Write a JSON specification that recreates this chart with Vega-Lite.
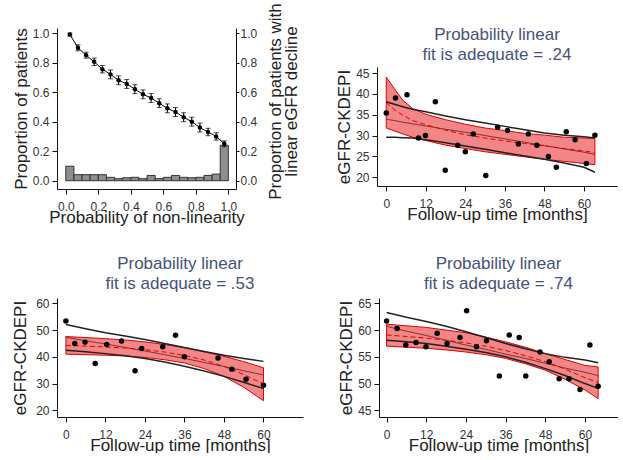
{
  "$schema": "https://vega.github.io/schema/vega-lite/v6.json",
  "padding": {"left": 11, "top": 2, "right": 0, "bottom": 0},
  "background": "white",
  "config": {
    "view": {"stroke": null},
    "font": "Liberation Sans",
    "axis": {"grid": false, "labelFontSize": 12, "titleFontSize": 17, "titleFontWeight": "normal", "tickSize": 5, "domainColor": "#111", "tickColor": "#111", "labelColor": "#333", "titleColor": "#222", "labelOverlap": false, "labelFlush": false},
    "axisX": {"labelPadding": 7, "titlePadding": -3},
    "axisY": {"labelPadding": 3, "titlePadding": 2},
    "title": {"fontSize": 17, "fontWeight": "normal", "color": "#45527a", "lineHeight": 20, "offset": 4}
  },
  "datasets": {
    "bars": [
      {"x0": 0.00, "x1": 0.05, "p": 0.098}, {"x0": 0.05, "x1": 0.10, "p": 0.041}, {"x0": 0.10, "x1": 0.15, "p": 0.041}, {"x0": 0.15, "x1": 0.20, "p": 0.041},
      {"x0": 0.20, "x1": 0.25, "p": 0.041}, {"x0": 0.25, "x1": 0.30, "p": 0.023}, {"x0": 0.30, "x1": 0.35, "p": 0.014}, {"x0": 0.35, "x1": 0.40, "p": 0.02},
      {"x0": 0.40, "x1": 0.45, "p": 0.023}, {"x0": 0.45, "x1": 0.50, "p": 0.014}, {"x0": 0.50, "x1": 0.55, "p": 0.036}, {"x0": 0.55, "x1": 0.60, "p": 0.014},
      {"x0": 0.60, "x1": 0.65, "p": 0.023}, {"x0": 0.65, "x1": 0.70, "p": 0.036}, {"x0": 0.70, "x1": 0.75, "p": 0.023}, {"x0": 0.75, "x1": 0.80, "p": 0.02},
      {"x0": 0.80, "x1": 0.85, "p": 0.023}, {"x0": 0.85, "x1": 0.90, "p": 0.036}, {"x0": 0.90, "x1": 0.95, "p": 0.045}, {"x0": 0.95, "x1": 1.00, "p": 0.24}
    ],
    "pts": [
      {"x": 0.025, "y": 0.99, "lo": 0.98, "hi": 1.0}, {"x": 0.075, "y": 0.90, "lo": 0.88, "hi": 0.92}, {"x": 0.125, "y": 0.85, "lo": 0.83, "hi": 0.87},
      {"x": 0.175, "y": 0.805, "lo": 0.78, "hi": 0.83}, {"x": 0.225, "y": 0.755, "lo": 0.73, "hi": 0.78}, {"x": 0.275, "y": 0.72, "lo": 0.69, "hi": 0.75},
      {"x": 0.325, "y": 0.68, "lo": 0.65, "hi": 0.71}, {"x": 0.375, "y": 0.655, "lo": 0.625, "hi": 0.685}, {"x": 0.425, "y": 0.62, "lo": 0.59, "hi": 0.65},
      {"x": 0.475, "y": 0.585, "lo": 0.555, "hi": 0.615}, {"x": 0.525, "y": 0.56, "lo": 0.53, "hi": 0.59}, {"x": 0.575, "y": 0.525, "lo": 0.495, "hi": 0.555},
      {"x": 0.625, "y": 0.49, "lo": 0.46, "hi": 0.52}, {"x": 0.675, "y": 0.465, "lo": 0.435, "hi": 0.495}, {"x": 0.725, "y": 0.43, "lo": 0.40, "hi": 0.46},
      {"x": 0.775, "y": 0.40, "lo": 0.37, "hi": 0.43}, {"x": 0.825, "y": 0.36, "lo": 0.33, "hi": 0.39}, {"x": 0.875, "y": 0.33, "lo": 0.305, "hi": 0.355},
      {"x": 0.925, "y": 0.30, "lo": 0.275, "hi": 0.325}, {"x": 0.975, "y": 0.25, "lo": 0.23, "hi": 0.27}
    ],
    "s2": [
      {"t": 0, "v": 35.4}, {"t": 2.8, "v": 39.0}, {"t": 6.3, "v": 39.8}, {"t": 9.8, "v": 29.4}, {"t": 11.9, "v": 30.0}, {"t": 14.9, "v": 38.1},
      {"t": 17.9, "v": 21.7}, {"t": 21.7, "v": 27.7}, {"t": 24.0, "v": 26.1}, {"t": 26.4, "v": 30.4}, {"t": 30.2, "v": 20.4}, {"t": 33.8, "v": 32.0},
      {"t": 36.8, "v": 31.2}, {"t": 40.1, "v": 28.0}, {"t": 43.1, "v": 30.4}, {"t": 45.7, "v": 27.7}, {"t": 49.2, "v": 25.0}, {"t": 51.6, "v": 22.4},
      {"t": 54.6, "v": 30.9}, {"t": 57.3, "v": 29.0}, {"t": 60.7, "v": 23.3}, {"t": 63.3, "v": 30.1}
    ],
    "c2": [
      {"t": 0, "ub": 38.1, "lb": 29.6, "lin": 33.9, "bu": 44.0, "bl": 31.8, "dm": 37.9},
      {"t": 2.5, "ub": 37.5, "lb": 29.6, "lin": 33.6, "bu": 41.2, "bl": 31.1, "dm": 36.2},
      {"t": 5, "ub": 36.9, "lb": 29.5, "lin": 33.2, "bu": 38.5, "bl": 30.4, "dm": 34.9},
      {"t": 8, "ub": 36.3, "lb": 29.4, "lin": 32.8, "bu": 36.5, "bl": 29.6, "dm": 33.6},
      {"t": 12, "ub": 35.7, "lb": 29.0, "lin": 32.3, "bu": 35.1, "bl": 28.8, "dm": 32.6},
      {"t": 18, "ub": 34.7, "lb": 28.3, "lin": 31.5, "bu": 33.8, "bl": 27.7, "dm": 31.3},
      {"t": 24, "ub": 33.8, "lb": 27.5, "lin": 30.8, "bu": 32.7, "bl": 26.9, "dm": 30.2},
      {"t": 30, "ub": 33.0, "lb": 26.7, "lin": 30.0, "bu": 31.8, "bl": 26.1, "dm": 29.4},
      {"t": 36, "ub": 32.2, "lb": 25.9, "lin": 29.2, "bu": 31.2, "bl": 25.5, "dm": 28.7},
      {"t": 42, "ub": 31.4, "lb": 25.1, "lin": 28.4, "bu": 30.5, "bl": 24.9, "dm": 28.1},
      {"t": 48, "ub": 30.6, "lb": 24.3, "lin": 27.6, "bu": 30.1, "bl": 24.3, "dm": 27.5},
      {"t": 54, "ub": 30.1, "lb": 23.4, "lin": 26.8, "bu": 29.6, "bl": 23.8, "dm": 26.9},
      {"t": 60, "ub": 29.7, "lb": 22.4, "lin": 26.0, "bu": 29.4, "bl": 23.3, "dm": 26.3},
      {"t": 63.3, "ub": 29.4, "lb": 21.2, "lin": 25.5, "bu": 29.3, "bl": 23.0, "dm": 25.9}
    ],
    "s3": [
      {"t": 0, "v": 53.4}, {"t": 2.7, "v": 45.0}, {"t": 5.8, "v": 45.5}, {"t": 8.9, "v": 37.5}, {"t": 12.4, "v": 44.6},
      {"t": 16.9, "v": 45.9}, {"t": 21.0, "v": 34.8}, {"t": 23.0, "v": 43.1}, {"t": 29.4, "v": 43.8}, {"t": 33.3, "v": 48.1},
      {"t": 36.0, "v": 40.0}, {"t": 46.2, "v": 39.6}, {"t": 50.4, "v": 35.4}, {"t": 54.7, "v": 31.6}, {"t": 60.0, "v": 29.4}
    ],
    "c3": [
      {"t": 0, "ub": 52.1, "lb": 42.5, "lin": 47.3, "bu": 47.6, "bl": 41.0, "dm": 44.3},
      {"t": 6, "ub": 50.5, "lb": 41.9, "lin": 46.0, "bu": 47.2, "bl": 40.8, "dm": 44.0},
      {"t": 12, "ub": 49.0, "lb": 41.2, "lin": 44.8, "bu": 46.8, "bl": 40.6, "dm": 43.7},
      {"t": 18, "ub": 47.8, "lb": 40.4, "lin": 43.5, "bu": 46.3, "bl": 40.3, "dm": 43.3},
      {"t": 24, "ub": 46.5, "lb": 39.4, "lin": 42.2, "bu": 45.6, "bl": 39.8, "dm": 42.7},
      {"t": 30, "ub": 45.0, "lb": 38.1, "lin": 40.8, "bu": 44.6, "bl": 38.9, "dm": 41.8},
      {"t": 36, "ub": 43.5, "lb": 36.5, "lin": 39.4, "bu": 43.4, "bl": 37.7, "dm": 40.5},
      {"t": 42, "ub": 42.0, "lb": 34.7, "lin": 37.9, "bu": 41.9, "bl": 35.6, "dm": 38.8},
      {"t": 48, "ub": 40.6, "lb": 32.7, "lin": 36.4, "bu": 40.2, "bl": 32.7, "dm": 36.4},
      {"t": 54, "ub": 39.4, "lb": 30.5, "lin": 34.8, "bu": 38.2, "bl": 28.6, "dm": 33.4},
      {"t": 60, "ub": 38.3, "lb": 28.1, "lin": 33.2, "bu": 35.9, "bl": 23.6, "dm": 29.8}
    ],
    "s4": [
      {"t": 0, "v": 61.7}, {"t": 3.2, "v": 60.3}, {"t": 5.8, "v": 57.2}, {"t": 8.9, "v": 57.7}, {"t": 11.9, "v": 56.9}, {"t": 15.3, "v": 59.4},
      {"t": 18.3, "v": 57.5}, {"t": 22.2, "v": 58.6}, {"t": 24.2, "v": 63.6}, {"t": 27.2, "v": 56.9}, {"t": 30.2, "v": 58.0}, {"t": 34.1, "v": 51.4},
      {"t": 37.1, "v": 59.1}, {"t": 40.1, "v": 58.6}, {"t": 42.1, "v": 51.4}, {"t": 46.4, "v": 55.9}, {"t": 49.2, "v": 54.1}, {"t": 52.2, "v": 50.9},
      {"t": 55.2, "v": 50.9}, {"t": 58.5, "v": 48.9}, {"t": 61.5, "v": 57.2}, {"t": 64.0, "v": 49.5}
    ],
    "c4": [
      {"t": 0, "ub": 63.3, "lb": 58.1, "lin": 60.7, "bu": 61.1, "bl": 57.0, "dm": 59.1},
      {"t": 6, "ub": 62.4, "lb": 57.8, "lin": 59.8, "bu": 60.8, "bl": 56.8, "dm": 58.8},
      {"t": 12, "ub": 61.6, "lb": 57.5, "lin": 59.0, "bu": 60.5, "bl": 56.6, "dm": 58.5},
      {"t": 18, "ub": 60.7, "lb": 57.0, "lin": 58.1, "bu": 60.0, "bl": 56.3, "dm": 58.1},
      {"t": 24, "ub": 59.7, "lb": 56.4, "lin": 57.2, "bu": 59.5, "bl": 55.9, "dm": 57.6},
      {"t": 30, "ub": 58.6, "lb": 55.8, "lin": 56.4, "bu": 58.7, "bl": 55.4, "dm": 57.0},
      {"t": 36, "ub": 57.5, "lb": 55.0, "lin": 55.5, "bu": 57.8, "bl": 54.7, "dm": 56.2},
      {"t": 42, "ub": 56.5, "lb": 54.0, "lin": 54.7, "bu": 56.8, "bl": 53.7, "dm": 55.2},
      {"t": 48, "ub": 55.6, "lb": 52.8, "lin": 53.8, "bu": 55.6, "bl": 52.5, "dm": 54.1},
      {"t": 54, "ub": 54.9, "lb": 51.5, "lin": 52.9, "bu": 54.5, "bl": 50.8, "dm": 52.7},
      {"t": 60, "ub": 54.4, "lb": 50.0, "lin": 52.1, "bu": 53.4, "bl": 48.8, "dm": 51.1},
      {"t": 64, "ub": 53.9, "lb": 49.1, "lin": 51.5, "bu": 53.1, "bl": 47.2, "dm": 50.2}
    ]
  },
  "spacing": 30,
  "vconcat": [
    {
      "spacing": 35,
      "hconcat": [
        {
          "width": 179, "height": 161,
          "layer": [
            {
              "data": {"name": "bars"},
              "mark": {"type": "bar", "fill": "#8e8e8e", "stroke": "#333", "strokeWidth": 1},
              "encoding": {
                "x": {"field": "x0", "type": "quantitative", "scale": {"domain": [-0.054, 1.047], "nice": false, "zero": false}, "axis": {"title": "Probability of non-linearity", "values": [0, 0.2, 0.4, 0.6, 0.8, 1], "format": ".1f"}},
                "x2": {"field": "x1"},
                "y": {"field": "p", "type": "quantitative", "scale": {"domain": [-0.056, 1.034], "nice": false, "zero": false}, "axis": {"title": "Proportion of patients", "values": [0, 0.2, 0.4, 0.6, 0.8, 1], "format": ".1f"}},
                "y2": {"datum": 0}
              }
            },
            {
              "data": {"name": "pts"},
              "mark": {"type": "errorbar", "color": "#000", "ticks": {"size": 5, "color": "#000"}, "thickness": 1},
              "encoding": {
                "x": {"field": "x", "type": "quantitative", "scale": {"domain": [-0.054, 1.047], "nice": false, "zero": false}, "axis": {"title": "Probability of non-linearity", "values": [0, 0.2, 0.4, 0.6, 0.8, 1], "format": ".1f"}},
                "y": {"field": "lo", "type": "quantitative", "scale": {"domain": [-0.056, 1.034], "nice": false, "zero": false}, "axis": null},
                "y2": {"field": "hi"}
              }
            },
            {
              "data": {"name": "pts"},
              "mark": {"type": "line", "color": "#000", "strokeWidth": 1},
              "encoding": {
                "x": {"field": "x", "type": "quantitative", "scale": {"domain": [-0.054, 1.047], "nice": false, "zero": false}, "axis": {"title": "Probability of non-linearity", "values": [0, 0.2, 0.4, 0.6, 0.8, 1], "format": ".1f"}},
                "y": {"field": "y", "type": "quantitative", "scale": {"domain": [-0.056, 1.034], "nice": false, "zero": false}, "axis": null}
              }
            },
            {
              "data": {"name": "pts"},
              "mark": {"type": "point", "filled": true, "color": "#000", "opacity": 1, "size": 20},
              "encoding": {
                "x": {"field": "x", "type": "quantitative", "scale": {"domain": [-0.054, 1.047], "nice": false, "zero": false}, "axis": {"title": "Probability of non-linearity", "values": [0, 0.2, 0.4, 0.6, 0.8, 1], "format": ".1f"}},
                "y": {"field": "y", "type": "quantitative", "scale": {"domain": [-0.056, 1.034], "nice": false, "zero": false}, "axis": {"orient": "right", "title": ["Proportion of patients with", "linear eGFR decline"], "titleLineHeight": 16, "titleAngle": 270, "titleBaseline": "top", "titleAlign": "center", "titleY": 73, "titlePadding": -5, "tickSize": 3, "labelPadding": 1, "values": [0, 0.2, 0.4, 0.6, 0.8, 1], "format": ".1f"}}
              }
            }
          ],
          "resolve": {"scale": {"y": "shared"}, "axis": {"y": "independent"}}
        },
        {
          "spacing": 4,
          "vconcat": [
            {
              "width": 240, "height": 1,
              "data": {"values": [{}]},
              "mark": {"type": "text", "text": ""},
              "encoding": {},
              "title": {"text": ["Probability linear", "fit is adequate = .24"], "orient": "bottom", "offset": -7}
            },
            {
              "width": 240, "height": 119,
              "encoding": {
                "x": {"field": "t", "type": "quantitative", "scale": {"domain": [-2.8, 70], "nice": false, "zero": false}, "axis": {"title": "Follow-up time [months]", "values": [0, 12, 24, 36, 48, 60]}}
              },
              "layer": [
                {"data": {"name": "c2"}, "mark": {"type": "area", "fill": "#e82020", "fillOpacity": 0.55, "stroke": "#e00000", "strokeWidth": 1},
                 "encoding": {"y": {"field": "bl", "type": "quantitative", "scale": {"domain": [17.9, 46.44], "nice": false, "zero": false}, "axis": {"title": "eGFR-CKDEPI", "values": [20, 25, 30, 35, 40, 45]}}, "y2": {"field": "bu"}}},
                {"data": {"name": "c2"}, "mark": {"type": "line", "color": "#8a3030", "strokeWidth": 1},
                 "encoding": {"y": {"field": "lin", "type": "quantitative", "scale": {"domain": [17.9, 46.44], "nice": false, "zero": false}, "axis": {"title": "eGFR-CKDEPI", "values": [20, 25, 30, 35, 40, 45]}}}},
                {"data": {"name": "c2"}, "mark": {"type": "line", "color": "#e00000", "strokeWidth": 1, "strokeDash": [5, 3]},
                 "encoding": {"y": {"field": "dm", "type": "quantitative", "scale": {"domain": [17.9, 46.44], "nice": false, "zero": false}, "axis": {"title": "eGFR-CKDEPI", "values": [20, 25, 30, 35, 40, 45]}}}},
                {"data": {"name": "c2"}, "mark": {"type": "line", "color": "#222", "strokeWidth": 1.5},
                 "encoding": {"y": {"field": "ub", "type": "quantitative", "scale": {"domain": [17.9, 46.44], "nice": false, "zero": false}, "axis": {"title": "eGFR-CKDEPI", "values": [20, 25, 30, 35, 40, 45]}}}},
                {"data": {"name": "c2"}, "mark": {"type": "line", "color": "#222", "strokeWidth": 1.5},
                 "encoding": {"y": {"field": "lb", "type": "quantitative", "scale": {"domain": [17.9, 46.44], "nice": false, "zero": false}, "axis": {"title": "eGFR-CKDEPI", "values": [20, 25, 30, 35, 40, 45]}}}},
                {"data": {"name": "s2"}, "mark": {"type": "point", "filled": true, "color": "#000", "opacity": 1, "size": 30},
                 "encoding": {"y": {"field": "v", "type": "quantitative", "scale": {"domain": [17.9, 46.44], "nice": false, "zero": false}, "axis": {"title": "eGFR-CKDEPI", "values": [20, 25, 30, 35, 40, 45]}}}}
              ]
            }
          ]
        }
      ]
    },
    {
      "spacing": 34,
      "hconcat": [
        {
          "width": 246, "height": 119,
          "title": {"text": ["Probability linear", "fit is adequate = .53"]},
          "encoding": {
            "x": {"field": "t", "type": "quantitative", "scale": {"domain": [-2.7, 72], "nice": false, "zero": false}, "axis": {"title": "Follow-up time [months]", "values": [0, 12, 24, 36, 48, 60]}}
          },
          "layer": [
            {"data": {"name": "c3"}, "mark": {"type": "area", "fill": "#e82020", "fillOpacity": 0.55, "stroke": "#e00000", "strokeWidth": 1},
             "encoding": {"y": {"field": "bl", "type": "quantitative", "scale": {"domain": [17.5, 62], "nice": false, "zero": false}, "axis": {"title": "eGFR-CKDEPI", "titlePadding": 6, "values": [20, 30, 40, 50, 60]}}, "y2": {"field": "bu"}}},
            {"data": {"name": "c3"}, "mark": {"type": "line", "color": "#8a3030", "strokeWidth": 1},
             "encoding": {"y": {"field": "lin", "type": "quantitative", "scale": {"domain": [17.5, 62], "nice": false, "zero": false}, "axis": {"title": "eGFR-CKDEPI", "titlePadding": 6, "values": [20, 30, 40, 50, 60]}}}},
            {"data": {"name": "c3"}, "mark": {"type": "line", "color": "#e00000", "strokeWidth": 1, "strokeDash": [5, 3]},
             "encoding": {"y": {"field": "dm", "type": "quantitative", "scale": {"domain": [17.5, 62], "nice": false, "zero": false}, "axis": {"title": "eGFR-CKDEPI", "titlePadding": 6, "values": [20, 30, 40, 50, 60]}}}},
            {"data": {"name": "c3"}, "mark": {"type": "line", "color": "#222", "strokeWidth": 1.5},
             "encoding": {"y": {"field": "ub", "type": "quantitative", "scale": {"domain": [17.5, 62], "nice": false, "zero": false}, "axis": {"title": "eGFR-CKDEPI", "titlePadding": 6, "values": [20, 30, 40, 50, 60]}}}},
            {"data": {"name": "c3"}, "mark": {"type": "line", "color": "#222", "strokeWidth": 1.5},
             "encoding": {"y": {"field": "lb", "type": "quantitative", "scale": {"domain": [17.5, 62], "nice": false, "zero": false}, "axis": {"title": "eGFR-CKDEPI", "titlePadding": 6, "values": [20, 30, 40, 50, 60]}}}},
            {"data": {"name": "s3"}, "mark": {"type": "point", "filled": true, "color": "#000", "opacity": 1, "size": 30},
             "encoding": {"y": {"field": "v", "type": "quantitative", "scale": {"domain": [17.5, 62], "nice": false, "zero": false}, "axis": {"title": "eGFR-CKDEPI", "titlePadding": 6, "values": [20, 30, 40, 50, 60]}}}}
          ]
        },
        {
          "width": 239, "height": 119,
          "title": {"text": ["Probability linear", "fit is adequate = .74"]},
          "encoding": {
            "x": {"field": "t", "type": "quantitative", "scale": {"domain": [-2.3, 70], "nice": false, "zero": false}, "axis": {"title": "Follow-up time [months]", "values": [0, 12, 24, 36, 48, 60]}}
          },
          "layer": [
            {"data": {"name": "c4"}, "mark": {"type": "area", "fill": "#e82020", "fillOpacity": 0.55, "stroke": "#e00000", "strokeWidth": 1},
             "encoding": {"y": {"field": "bl", "type": "quantitative", "scale": {"domain": [43.75, 66], "nice": false, "zero": false}, "axis": {"title": "eGFR-CKDEPI", "values": [45, 50, 55, 60, 65]}}, "y2": {"field": "bu"}}},
            {"data": {"name": "c4"}, "mark": {"type": "line", "color": "#8a3030", "strokeWidth": 1},
             "encoding": {"y": {"field": "lin", "type": "quantitative", "scale": {"domain": [43.75, 66], "nice": false, "zero": false}, "axis": {"title": "eGFR-CKDEPI", "values": [45, 50, 55, 60, 65]}}}},
            {"data": {"name": "c4"}, "mark": {"type": "line", "color": "#e00000", "strokeWidth": 1, "strokeDash": [5, 3]},
             "encoding": {"y": {"field": "dm", "type": "quantitative", "scale": {"domain": [43.75, 66], "nice": false, "zero": false}, "axis": {"title": "eGFR-CKDEPI", "values": [45, 50, 55, 60, 65]}}}},
            {"data": {"name": "c4"}, "mark": {"type": "line", "color": "#222", "strokeWidth": 1.5},
             "encoding": {"y": {"field": "ub", "type": "quantitative", "scale": {"domain": [43.75, 66], "nice": false, "zero": false}, "axis": {"title": "eGFR-CKDEPI", "values": [45, 50, 55, 60, 65]}}}},
            {"data": {"name": "c4"}, "mark": {"type": "line", "color": "#222", "strokeWidth": 1.5},
             "encoding": {"y": {"field": "lb", "type": "quantitative", "scale": {"domain": [43.75, 66], "nice": false, "zero": false}, "axis": {"title": "eGFR-CKDEPI", "values": [45, 50, 55, 60, 65]}}}},
            {"data": {"name": "s4"}, "mark": {"type": "point", "filled": true, "color": "#000", "opacity": 1, "size": 30},
             "encoding": {"y": {"field": "v", "type": "quantitative", "scale": {"domain": [43.75, 66], "nice": false, "zero": false}, "axis": {"title": "eGFR-CKDEPI", "values": [45, 50, 55, 60, 65]}}}}
          ]
        }
      ]
    }
  ]
}
